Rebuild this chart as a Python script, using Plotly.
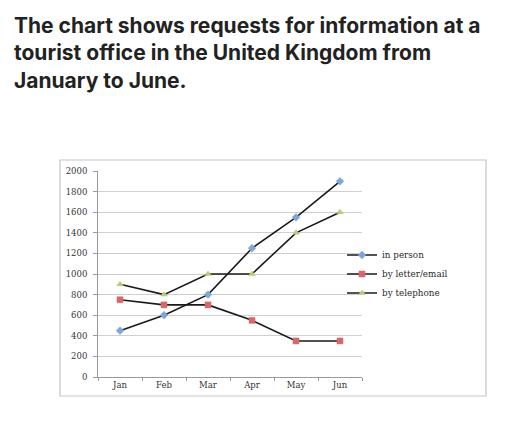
import plotly.graph_objects as go

months = ["Jan", "Feb", "Mar", "Apr", "May", "Jun"]
in_person = [450, 600, 800, 1250, 1550, 1900]
letter_email = [750, 700, 700, 550, 350, 350]
telephone = [900, 800, 1000, 1000, 1400, 1600]
y_ticks = [0, 200, 400, 600, 800, 1000, 1200, 1400, 1600, 1800, 2000]

series = [
    ("in person", in_person, "#7ea6d8", "diamond", 6),
    ("by letter/email", letter_email, "#d9676a", "square", 6),
    ("by telephone", telephone, "#b9cc74", "triangle-up", 6),
]

fig = go.Figure()
for name, vals, col, sym, sz in series:
    fig.add_trace(go.Scatter(
        x=months, y=vals, name=name, mode="lines+markers",
        line=dict(color="#1a1a1a", width=1.6),
        marker=dict(color=col, symbol=sym, size=sz, line=dict(color=col, width=0.5)),
    ))

L, R, T, B = 90, 158, 163, 65
W, H = 512, 434
pw, ph = W - L - R, H - T - B

def px_x(p):
    return (p - L) / pw

def px_y(p):
    return (H - B - p) / ph

fig.add_shape(type="rect", xref="paper", yref="paper",
              x0=px_x(52), x1=px_x(478), y0=px_y(388), y1=px_y(152),
              line=dict(color="#c6c6c6", width=1.2), fillcolor="rgba(0,0,0,0)", layer="below")

fig.add_annotation(
    xref="paper", yref="paper", x=px_x(4), y=px_y(3), xanchor="left", yanchor="top",
    align="left", showarrow=False,
    text="<b>The chart shows requests for information at a<br>tourist office in the United Kingdom from<br>January to June.</b>",
    font=dict(family="Inter", size=21, color="#222222"),
)

fig.update_layout(
    width=W, height=H,
    margin=dict(l=L, r=R, t=T, b=B),
    paper_bgcolor="white", plot_bgcolor="white",
    showlegend=True,
    legend=dict(x=px_x(334), y=px_y(266), xanchor="left", yanchor="middle",
                font=dict(family="DejaVu Serif", size=8.8, color="#2a2a2a"),
                itemwidth=30, tracegroupgap=0, bgcolor="rgba(0,0,0,0)"),
    font=dict(family="DejaVu Serif", size=8.5, color="#333333"),
)
fig.update_xaxes(
    type="category", range=[-0.5, 5.5], showgrid=False,
    showline=True, linecolor="#9a9a9a", linewidth=1,
    ticks="outside", ticklen=3, tickcolor="#9a9a9a", tickson="boundaries",
    tickfont=dict(family="DejaVu Serif", size=8.5, color="#333333"),
)
fig.update_yaxes(
    range=[0, 2000], tickvals=y_ticks, showgrid=True, gridcolor="#cfcfcf", gridwidth=1,
    showline=True, linecolor="#9a9a9a", linewidth=1,
    ticks="outside", ticklen=4, tickcolor="#9a9a9a", ticklabelstandoff=4,
    zeroline=False,
    tickfont=dict(family="DejaVu Serif", size=8.5, color="#333333"),
)

fig.write_html("out.html")
